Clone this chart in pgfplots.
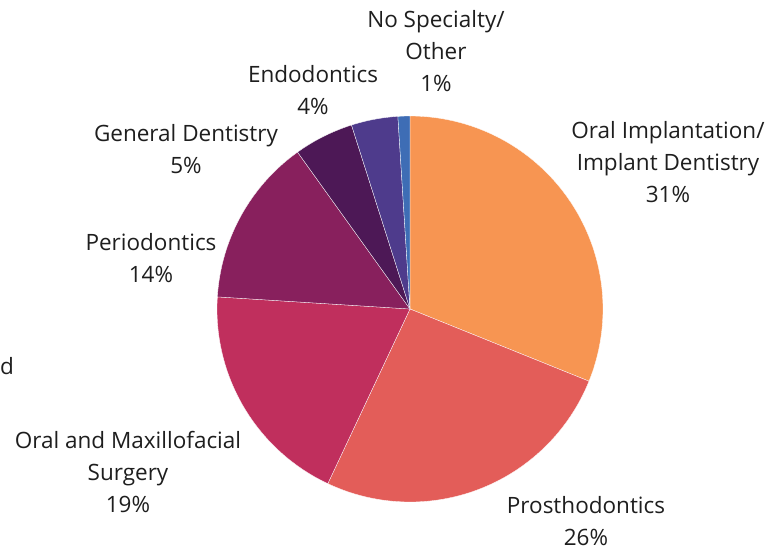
\documentclass[border=0pt]{standalone}
\usepackage{pgfplots}
\pgfplotsset{compat=1.18}
\usepgfplotslibrary{polar}
\usepackage{fontspec}
\setmainfont{Open Sans}[Ligatures=NoCommon]
\definecolor{cImpl}{HTML}{F79552}
\definecolor{cPros}{HTML}{E35D59}
\definecolor{cOMF}{HTML}{C02F5D}
\definecolor{cPerio}{HTML}{88205D}
\definecolor{cGen}{HTML}{4D1856}
\definecolor{cEndo}{HTML}{4E3B8C}
\definecolor{cNone}{HTML}{3E6DB5}
\definecolor{txt}{HTML}{1E1E1E}
\begin{document}
\begin{tikzpicture}[x=1pt,y=1pt]
\path[use as bounding box] (-410,-242) rectangle (371,309);
% shares in percent, clockwise from 12 o'clock:
% 31.1, 25.9, 19.0, 14.1, 5.0, 3.9, 1.0  (1% = 3.6 degrees)
\begin{polaraxis}[
  at={(0,0)}, anchor=center,
  scale only axis, width=386pt, height=386pt,
  xmin=0, xmax=360, ymin=0, ymax=1,
  hide axis, clip=false,
]
\addplot[fill=cImpl,  draw=white, line width=0.3pt, domain=-21.96:90,      samples=80] {1} -- (axis cs:0,0) -- cycle;
\addplot[fill=cPros,  draw=white, line width=0.3pt, domain=-115.2:-21.96,  samples=70] {1} -- (axis cs:0,0) -- cycle;
\addplot[fill=cOMF,   draw=white, line width=0.3pt, domain=-183.6:-115.2,  samples=60] {1} -- (axis cs:0,0) -- cycle;
\addplot[fill=cPerio, draw=white, line width=0.3pt, domain=-234.36:-183.6, samples=50] {1} -- (axis cs:0,0) -- cycle;
\addplot[fill=cGen,   draw=white, line width=0.3pt, domain=-252.36:-234.36,samples=20] {1} -- (axis cs:0,0) -- cycle;
\addplot[fill=cEndo,  draw=white, line width=0.3pt, domain=-266.4:-252.36, samples=16] {1} -- (axis cs:0,0) -- cycle;
\addplot[fill=cNone,  draw=white, line width=0.3pt, domain=-270:-266.4,    samples=6]  {1} -- (axis cs:0,0) -- cycle;
\end{polaraxis}
\begin{scope}[every node/.style={text=txt, font=\fontsize{22.5}{32}\selectfont, align=center, inner sep=0pt}]
\node at (26,258) {No Specialty/\\Other\\1\%};
\node at (-97,219) {Endodontics\\4\%};
\node at (-224,160) {General Dentistry\\5\%};
\node at (-259,51) {Periodontics\\14\%};
\node at (-282,-163) {Oral and Maxillofacial\\Surgery\\19\%};
\node at (176,-212) {Prosthodontics\\26\%};
\node at (258,147) {Oral Implantation/\\Implant Dentistry\\31\%};
\node[anchor=west] at (-410,-57) {d};
\end{scope}
\end{tikzpicture}
\end{document}
